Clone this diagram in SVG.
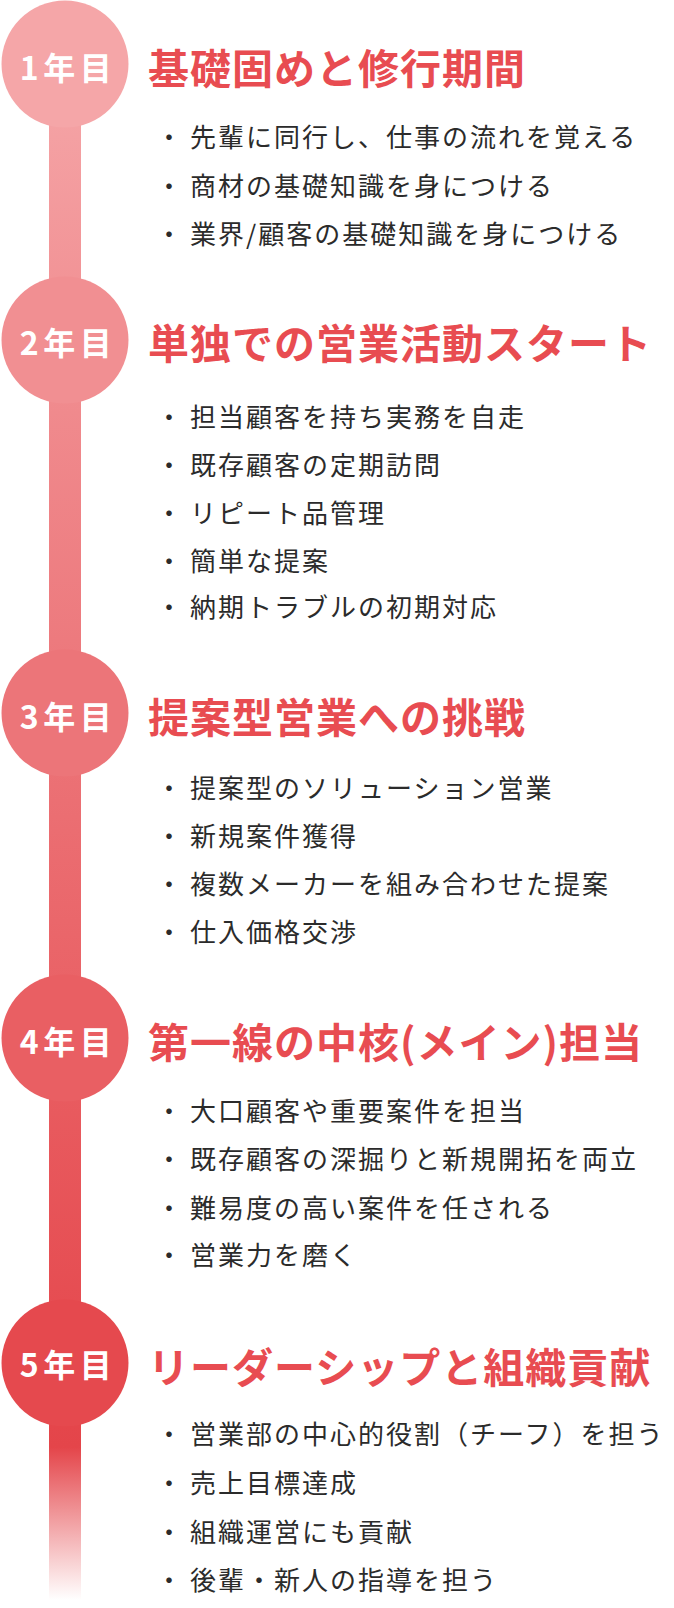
<svg xmlns="http://www.w3.org/2000/svg" width="674" height="1608" viewBox="0 0 674 1608">
<style>
.lbl{font-family:"Noto Sans CJK JP","Noto Sans",sans-serif;font-weight:700;font-size:32px;fill:#ffffff;letter-spacing:4.5px;text-anchor:middle}
.ttl{font-family:"Noto Sans CJK JP","Noto Sans",sans-serif;font-weight:700;font-size:41px;fill:#e84c51;letter-spacing:1px}
.itm{font-family:"Noto Sans CJK JP","Noto Sans",sans-serif;font-weight:400;font-size:26px;fill:#2b2b2b;letter-spacing:2px}
</style>
<defs>
<linearGradient id="stem" gradientUnits="userSpaceOnUse" x1="0" y1="0" x2="0" y2="1608">
<stop offset="0" stop-color="#f6a8aa"/>
<stop offset="0.04" stop-color="#f5a6a8"/>
<stop offset="0.211" stop-color="#f18f92"/>
<stop offset="0.443" stop-color="#ec7579"/>
<stop offset="0.646" stop-color="#e95f63"/>
<stop offset="0.848" stop-color="#e5494e"/>
<stop offset="0.9" stop-color="#e4454a"/>
<stop offset="0.995" stop-color="#e4454a" stop-opacity="0"/>
</linearGradient>
</defs>
<rect width="674" height="1608" fill="#ffffff"/>
<g id="connectors">
<rect x="49" y="64" width="32" height="1542" fill="url(#stem)"/>
</g>
<g id="year1">
<circle cx="65" cy="64" r="63.5" fill="#f5a6a8"/>
<text class="lbl" x="68" y="79.5">1年目</text>
<text class="ttl" x="148" y="84">基礎固めと修行期間</text>
<text class="itm" y="147"><tspan x="156">・</tspan><tspan x="190">先輩に同行し、仕事の流れを覚える</tspan></text>
<text class="itm" y="196"><tspan x="156">・</tspan><tspan x="190">商材の基礎知識を身につける</tspan></text>
<text class="itm" y="244"><tspan x="156">・</tspan><tspan x="190">業界/顧客の基礎知識を身につける</tspan></text>
</g>
<g id="year2">
<circle cx="65" cy="340" r="63.5" fill="#f18f92"/>
<text class="lbl" x="68" y="354.5">2年目</text>
<text class="ttl" x="148" y="359">単独での営業活動スタート</text>
<text class="itm" y="427"><tspan x="156">・</tspan><tspan x="190">担当顧客を持ち実務を自走</tspan></text>
<text class="itm" y="475"><tspan x="156">・</tspan><tspan x="190">既存顧客の定期訪問</tspan></text>
<text class="itm" y="523"><tspan x="156">・</tspan><tspan x="190">リピート品管理</tspan></text>
<text class="itm" y="571"><tspan x="156">・</tspan><tspan x="190">簡単な提案</tspan></text>
<text class="itm" y="617"><tspan x="156">・</tspan><tspan x="190">納期トラブルの初期対応</tspan></text>
</g>
<g id="year3">
<circle cx="65" cy="713" r="63.5" fill="#ec7579"/>
<text class="lbl" x="68" y="728.5">3年目</text>
<text class="ttl" x="148" y="733">提案型営業への挑戦</text>
<text class="itm" y="798"><tspan x="156">・</tspan><tspan x="190">提案型のソリューション営業</tspan></text>
<text class="itm" y="846"><tspan x="156">・</tspan><tspan x="190">新規案件獲得</tspan></text>
<text class="itm" y="894"><tspan x="156">・</tspan><tspan x="190">複数メーカーを組み合わせた提案</tspan></text>
<text class="itm" y="942"><tspan x="156">・</tspan><tspan x="190">仕入価格交渉</tspan></text>
</g>
<g id="year4">
<circle cx="65" cy="1038" r="63.5" fill="#e95f63"/>
<text class="lbl" x="68" y="1053.5">4年目</text>
<text class="ttl" x="148" y="1058">第一線の中核(メイン)担当</text>
<text class="itm" y="1121"><tspan x="156">・</tspan><tspan x="190">大口顧客や重要案件を担当</tspan></text>
<text class="itm" y="1169"><tspan x="156">・</tspan><tspan x="190">既存顧客の深掘りと新規開拓を両立</tspan></text>
<text class="itm" y="1218"><tspan x="156">・</tspan><tspan x="190">難易度の高い案件を任される</tspan></text>
<text class="itm" y="1265"><tspan x="156">・</tspan><tspan x="190">営業力を磨く</tspan></text>
</g>
<g id="year5">
<circle cx="65" cy="1363" r="63.5" fill="#e5494e"/>
<text class="lbl" x="68" y="1376.5">5年目</text>
<text class="ttl" x="148" y="1383">リーダーシップと組織貢献</text>
<text class="itm" y="1444"><tspan x="156">・</tspan><tspan x="190">営業部の中心的役割（チーフ）を担う</tspan></text>
<text class="itm" y="1493"><tspan x="156">・</tspan><tspan x="190">売上目標達成</tspan></text>
<text class="itm" y="1542"><tspan x="156">・</tspan><tspan x="190">組織運営にも貢献</tspan></text>
<text class="itm" y="1590"><tspan x="156">・</tspan><tspan x="190">後輩・新人の指導を担う</tspan></text>
</g>
</svg>
